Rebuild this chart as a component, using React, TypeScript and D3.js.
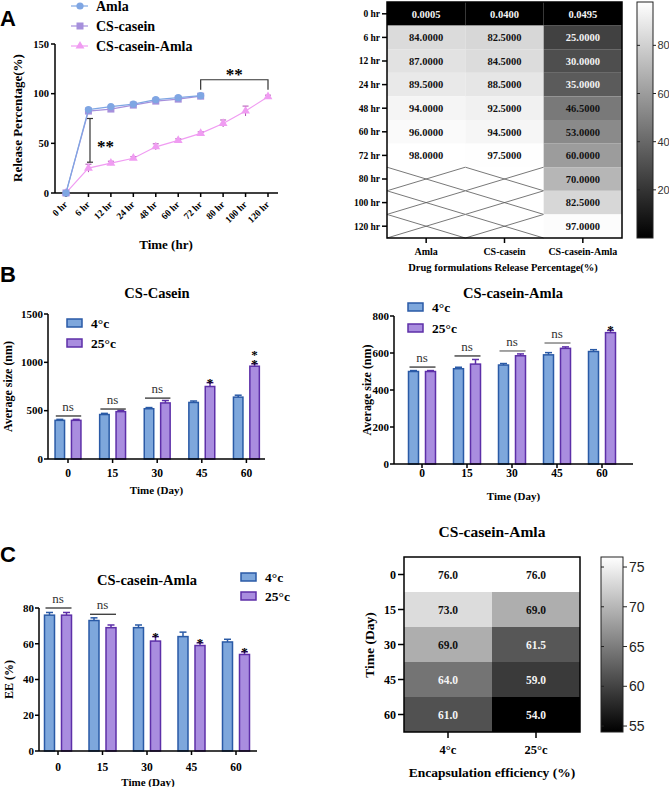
import React from 'react';
import * as d3 from 'd3';

// ---- panel A: release data ----
const timeCats = ['0 hr', '6 hr', '12 hr', '24 hr', '48 hr', '60 hr', '72 hr', '80 hr', '100 hr', '120 hr'];
const amla = [0.0005, 84, 87, 89.5, 94, 96, 98];
const casein = [0.04, 82.5, 84.5, 88.5, 92.5, 94.5, 97.5];
const caseinAmla = [0.0495, 25, 30, 35, 46.5, 53, 60, 70, 82.5, 97];
const caseinAmlaErr = [0, 4, 2, 1.5, 3, 1.5, 1.5, 3.5, 5, 1.5];
const formulations = ['Amla', 'CS-casein', 'CS-casein-Amla'];

// ---- panel B / C: stability data ----
const dayCats = ['0', '15', '30', '45', '60'];
const temps = ['4°c', '25°c'];
const csSize4 = [400, 460, 520, 585, 640];
const csSize25 = [400, 490, 580, 750, 960];
const csErr4 = [10, 12, 12, 15, 20];
const csErr25 = [10, 12, 25, 40, 25];
const caSize4 = [500, 515, 535, 590, 608];
const caSize25 = [500, 540, 585, 625, 710];
const caErr4 = [5, 8, 8, 12, 10];
const caErr25 = [5, 25, 10, 8, 12];
const ee4 = [76, 73, 69, 64, 61];
const ee25 = [76, 69, 61.5, 59, 54];
const eeErr4 = [1.5, 1.5, 1.5, 2.5, 1.5];
const eeErr25 = [1.5, 1.5, 2.5, 1.5, 1.5];

const serif = '"Liberation Serif", "Times New Roman", serif';
const sans = '"Liberation Sans", Arial, sans-serif';
const c4 = { fill: '#7ea7dc', stroke: '#2a5aa6' };
const c25 = { fill: '#a98ddf', stroke: '#5d2fa8' };

function LinePanel() {
  const x = d3.scalePoint<string>().domain(timeCats).range([66, 268]);
  const y = d3.scaleLinear().domain([0, 150]).range([193, 44]);
  const line = d3.line<number>().x((d, i) => x(timeCats[i])!).y((d) => y(d));
  const tri = d3.symbol().type(d3.symbolTriangle).size(34)()!;
  const series = [
    { name: 'Amla', vals: amla, color: '#7fa6e3', shape: 'circle' },
    { name: 'CS-casein', vals: casein, color: '#a690dc', shape: 'square' },
    { name: 'CS-casein-Amla', vals: caseinAmla, color: '#f09cf2', shape: 'tri' },
  ];
  const marker = (shape: string, cx: number, cy: number, color: string, key: any) =>
    shape === 'circle' ? <circle key={key} cx={cx} cy={cy} r={3.6} fill={color} />
      : shape === 'square' ? <rect key={key} x={cx - 3.5} y={cy - 3.5} width={7} height={7} fill={color} />
        : <path key={key} d={tri} transform={`translate(${cx},${cy})`} fill={color} />;
  const drawOrder = [series[2], series[1], series[0]];
  return (
    <g fontFamily={serif} fontWeight="bold">
      {/* legend */}
      {series.map((s, i) => (
        <g key={s.name} transform={`translate(0,${6 + i * 20})`}>
          <line x1={71} x2={88} y1={0} y2={0} stroke={s.color} strokeWidth={1.2} />
          {marker(s.shape, 80, 0, s.color, 'm')}
          <text x={96} y={5} fontSize={14}>{s.name}</text>
        </g>
      ))}
      {/* axes */}
      <line x1={55} x2={55} y1={44} y2={193} stroke="#000" strokeWidth={1.5} />
      <line x1={55} x2={278} y1={193} y2={193} stroke="#000" strokeWidth={1.5} />
      {[0, 50, 100, 150].map((t) => (
        <g key={t}>
          <line x1={51} x2={55} y1={y(t)} y2={y(t)} stroke="#000" strokeWidth={1.5} />
          <text x={49} y={y(t) + 3.5} fontSize={10.5} textAnchor="end">{t}</text>
        </g>
      ))}
      {timeCats.map((c) => (
        <g key={c}>
          <line x1={x(c)} x2={x(c)} y1={193} y2={197} stroke="#000" strokeWidth={1.5} />
          <text transform={`translate(${x(c)! + 2},${205}) rotate(-45)`} fontSize={9.5} textAnchor="end">{c}</text>
        </g>
      ))}
      <text transform="translate(22,118) rotate(-90)" fontSize={13} textAnchor="middle">Release Percentage(%)</text>
      <text x={166} y={249} fontSize={13} textAnchor="middle">Time (hr)</text>
      {/* series */}
      {drawOrder.map((s) => (
        <g key={s.name}>
          <path d={line(s.vals)!} fill="none" stroke={s.color} strokeWidth={1.2} />
          {s.name === 'CS-casein-Amla' && s.vals.map((v, i) => caseinAmlaErr[i] > 0 ? (
            <g key={i} stroke="#b14fb4" strokeWidth={1}>
              <line x1={x(timeCats[i])} x2={x(timeCats[i])} y1={y(v - caseinAmlaErr[i])} y2={y(v + caseinAmlaErr[i])} />
              <line x1={x(timeCats[i])! - 3} x2={x(timeCats[i])! + 3} y1={y(v + caseinAmlaErr[i])} y2={y(v + caseinAmlaErr[i])} />
            </g>
          ) : null)}
          {s.vals.map((v, i) => marker(s.shape, x(timeCats[i])!, y(v), s.color, i))}
        </g>
      ))}
      {/* significance */}
      <g stroke="#333" strokeWidth={1.2}>
        <line x1={90} x2={90} y1={y(75)} y2={y(31)} />
        <line x1={87} x2={93} y1={y(75)} y2={y(75)} />
        <line x1={87} x2={93} y1={y(31)} y2={y(31)} />
        <path d={`M${x('72 hr')},${y(104)}V${y(114)}H${x('120 hr')}V${y(104)}`} fill="none" />
      </g>
      <text x={97} y={152} fontSize={17}>**</text>
      <text x={(x('72 hr')! + x('120 hr')!) / 2} y={80} fontSize={17} textAnchor="middle">**</text>
    </g>
  );
}

function HeatA() {
  const rows = d3.scaleBand<string>().domain(timeCats).range([2, 238]);
  const cols = d3.scaleBand<string>().domain(formulations).range([387, 622]);
  const grid = [amla, casein, caseinAmla];
  const color = d3.scaleLinear<string>().domain([0, 98]).range(['#000', '#fff']).clamp(true);
  const cb = d3.scaleLinear().domain([0, 98]).range([238, 2]);
  return (
    <g fontFamily={serif} fontWeight="bold">
      <defs>
        <linearGradient id="gA" x1="0" x2="0" y1="1" y2="0">
          <stop offset="0" stopColor="#000" />
          <stop offset="1" stopColor="#fff" />
        </linearGradient>
      </defs>
      {formulations.map((f, ci) => timeCats.map((t, ri) => {
        const v = grid[ci][ri];
        const x0 = cols(f)!, y0 = rows(t)!, w = cols.bandwidth(), h = rows.bandwidth();
        if (v === undefined) {
          return (
            <g key={f + t} stroke="#555" strokeWidth={0.8}>
              <rect x={x0} y={y0} width={w} height={h} fill="#fff" stroke="none" />
              <line x1={x0} y1={y0} x2={x0 + w} y2={y0 + h} />
              <line x1={x0 + w} y1={y0} x2={x0} y2={y0 + h} />
            </g>
          );
        }
        const light = v / 98 > 0.46;
        return (
          <g key={f + t}>
            <rect x={x0} y={y0} width={w} height={h} fill={color(v)} />
            <text x={x0 + w / 2} y={y0 + h / 2 + 3.8} fontSize={10.5} textAnchor="middle" fill={light ? '#111' : '#f4f4f4'}>{v.toFixed(4)}</text>
          </g>
        );
      }))}
      <rect x={387} y={2} width={235} height={236} fill="none" stroke="#000" strokeWidth={1.5} />
      {timeCats.map((t) => (
        <g key={t}>
          <line x1={382} x2={387} y1={rows(t)! + rows.bandwidth() / 2} y2={rows(t)! + rows.bandwidth() / 2} stroke="#000" strokeWidth={1.5} />
          <text x={380} y={rows(t)! + rows.bandwidth() / 2 + 3.3} fontSize={9.5} textAnchor="end">{t}</text>
        </g>
      ))}
      {formulations.map((f) => (
        <g key={f}>
          <line x1={cols(f)! + cols.bandwidth() / 2} x2={cols(f)! + cols.bandwidth() / 2} y1={238} y2={243} stroke="#000" strokeWidth={1.5} />
          <text x={cols(f)! + cols.bandwidth() / 2} y={255} fontSize={10} textAnchor="middle">{f}</text>
        </g>
      ))}
      <text x={503} y={271} fontSize={10.5} textAnchor="middle">Drug formulations Release Percentage(%)</text>
      <rect x={637} y={2} width={16} height={236} fill="url(#gA)" stroke="#222" strokeWidth={1} />
      {[20, 40, 60, 80].map((t) => (
        <g key={t}>
          <line x1={637} x2={640} y1={cb(t)} y2={cb(t)} stroke="#222" />
          <line x1={653} x2={656} y1={cb(t)} y2={cb(t)} stroke="#222" />
          <text x={657.5} y={cb(t) + 4} fontSize={11} fontFamily={sans} fontWeight="normal" fill="#333">{t}</text>
        </g>
      ))}
    </g>
  );
}

type BarProps = {
  axisX: number; axisRight: number; yTop: number; yBottom: number; yMax: number; ticks: number[];
  band: [number, number]; offset: number; barW: number;
  v4: number[]; v25: number[]; e4: number[]; e25: number[];
  title: string; titleX: number; titleY: number;
  legendX: number; legendY: number; legendGap: number;
  yLabel: string; yLabelX: number; xLabelY: number; tickLabelY: number;
  ns: { cat: string; value: number; color?: string }[];
  stars: { cat: string; text: string[] }[];
};

function BarPanel(p: BarProps) {
  const x = d3.scaleBand<string>().domain(dayCats).range(p.band);
  const y = d3.scaleLinear().domain([0, p.yMax]).range([p.yBottom, p.yTop]);
  const cx = (c: string) => x(c)! + x.bandwidth() / 2;
  const groups = [
    { vals: p.v4, errs: p.e4, col: c4, dx: -p.offset },
    { vals: p.v25, errs: p.e25, col: c25, dx: p.offset },
  ];
  return (
    <g fontFamily={serif} fontWeight="bold">
      <text x={p.titleX} y={p.titleY} fontSize={14.5} textAnchor="middle">{p.title}</text>
      {temps.map((t, i) => (
        <g key={t}>
          <rect x={p.legendX} y={p.legendY + i * p.legendGap - 4} width={15} height={8} fill={groups[i].col.fill} stroke={groups[i].col.stroke} strokeWidth={1.5} />
          <text x={p.legendX + 24} y={p.legendY + i * p.legendGap + 5} fontSize={13.5}>{t}</text>
        </g>
      ))}
      {groups.map((g, gi) => dayCats.map((c, i) => {
        const bx = cx(c) + g.dx;
        const top = y(g.vals[i]);
        const et = y(g.vals[i] + g.errs[i]);
        return (
          <g key={gi + c} stroke={g.col.stroke} strokeWidth={1.5}>
            <line x1={bx} x2={bx} y1={top} y2={et} />
            <line x1={bx - 3.5} x2={bx + 3.5} y1={et} y2={et} />
            <rect x={bx - p.barW / 2} y={top} width={p.barW} height={p.yBottom - top} fill={g.col.fill} />
          </g>
        );
      }))}
      <line x1={p.axisX} x2={p.axisX} y1={p.yTop} y2={p.yBottom} stroke="#000" strokeWidth={1.5} />
      <line x1={p.axisX} x2={p.axisRight} y1={p.yBottom} y2={p.yBottom} stroke="#000" strokeWidth={1.5} />
      {p.ticks.map((t) => (
        <g key={t}>
          <line x1={p.axisX - 4} x2={p.axisX} y1={y(t)} y2={y(t)} stroke="#000" strokeWidth={1.5} />
          <text x={p.axisX - 5} y={y(t) + 3.8} fontSize={11} textAnchor="end">{t}</text>
        </g>
      ))}
      {dayCats.map((c) => (
        <g key={c}>
          <line x1={cx(c)} x2={cx(c)} y1={p.yBottom} y2={p.yBottom + 4} stroke="#000" strokeWidth={1.5} />
          <text x={cx(c)} y={p.tickLabelY} fontSize={11.5} textAnchor="middle">{c}</text>
        </g>
      ))}
      <text transform={`translate(${p.yLabelX},${(p.yTop + p.yBottom) / 2}) rotate(-90)`} fontSize={12} textAnchor="middle">{p.yLabel}</text>
      <text x={(p.axisX + p.axisRight) / 2} y={p.xLabelY} fontSize={11} textAnchor="middle">Time (Day)</text>
      {p.ns.map((n) => (
        <g key={n.cat}>
          <line x1={cx(n.cat) - p.offset - 4} x2={cx(n.cat) + p.offset + 5} y1={y(n.value)} y2={y(n.value)} stroke={n.color || '#222'} strokeWidth={1.2} />
          <text x={cx(n.cat)} y={y(n.value) - 5} fontSize={13} fontWeight="normal" textAnchor="middle" fill="#333">ns</text>
        </g>
      ))}
      {p.stars.map((s) => {
        const i = dayCats.indexOf(s.cat);
        const top = y(p.v25[i] + p.e25[i]);
        return s.text.map((st, k) => (
          <text key={s.cat + k} x={cx(s.cat) + p.offset} y={top + 5 - 9 * (s.text.length - 1 - k) - 1} fontSize={13} textAnchor="middle">{st}</text>
        ));
      })}
    </g>
  );
}

function HeatC() {
  const rows = d3.scaleBand<string>().domain(dayCats).range([557, 732]);
  const cols = d3.scaleBand<string>().domain(temps).range([404, 580]);
  const grid = [ee4, ee25];
  const color = d3.scaleLinear<string>().domain([54, 76]).range(['#000', '#fff']).clamp(true);
  const cb = d3.scaleLinear().domain([54.25, 76.26]).range([732, 557]);
  return (
    <g fontFamily={serif} fontWeight="bold">
      <defs>
        <linearGradient id="gC" x1="0" x2="0" y1="1" y2="0">
          <stop offset="0" stopColor="#000" />
          <stop offset="1" stopColor="#fff" />
        </linearGradient>
      </defs>
      <text x={492} y={537} fontSize={15.5} textAnchor="middle">CS-casein-Amla</text>
      {temps.map((t, ci) => dayCats.map((d, ri) => {
        const v = grid[ci][ri];
        const x0 = cols(t)!, y0 = rows(d)!;
        const light = (v - 54) / 22 > 0.46;
        return (
          <g key={t + d}>
            <rect x={x0} y={y0} width={cols.bandwidth()} height={rows.bandwidth()} fill={color(v)} />
            <text x={x0 + cols.bandwidth() / 2} y={y0 + rows.bandwidth() / 2 + 4} fontSize={11.5} textAnchor="middle" fill={light ? '#111' : '#f4f4f4'}>{v.toFixed(1)}</text>
          </g>
        );
      }))}
      <rect x={404} y={557} width={176} height={175} fill="none" stroke="#000" strokeWidth={1.5} />
      {dayCats.map((d) => (
        <g key={d}>
          <line x1={398} x2={404} y1={rows(d)! + rows.bandwidth() / 2} y2={rows(d)! + rows.bandwidth() / 2} stroke="#000" strokeWidth={1.5} />
          <text x={396} y={rows(d)! + rows.bandwidth() / 2 + 4} fontSize={12} textAnchor="end">{d}</text>
        </g>
      ))}
      {temps.map((t) => (
        <g key={t}>
          <line x1={cols(t)! + cols.bandwidth() / 2} x2={cols(t)! + cols.bandwidth() / 2} y1={732} y2={738} stroke="#000" strokeWidth={1.5} />
          <text x={cols(t)! + cols.bandwidth() / 2} y={754} fontSize={12.5} textAnchor="middle">{t}</text>
        </g>
      ))}
      <text x={492} y={777} fontSize={13.5} textAnchor="middle">Encapsulation efficiency (%)</text>
      <text transform="translate(374,645) rotate(-90)" fontSize={13.5} textAnchor="middle">Time (Day)</text>
      <rect x={601} y={557} width={22} height={175} fill="url(#gC)" stroke="#222" strokeWidth={1} />
      {[55, 60, 65, 70, 75].map((t) => (
        <g key={t}>
          <line x1={601} x2={604} y1={cb(t)} y2={cb(t)} stroke="#222" />
          <line x1={623} x2={627} y1={cb(t)} y2={cb(t)} stroke="#222" />
          <text x={629} y={cb(t) + 5} fontSize={14} fontFamily={sans} fontWeight="normal" fill="#222">{t}</text>
        </g>
      ))}
    </g>
  );
}

export default function App() {
  return (
    <svg width={669} height={787} style={{ position: 'absolute', left: 0, top: 0, background: '#fff' }}>
      <rect width={669} height={787} fill="#fff" />
      <g fontFamily={sans} fontWeight="bold" fontSize={22}>
        <text x={0} y={26}>A</text>
        <text x={0} y={282}>B</text>
        <text x={0} y={562}>C</text>
      </g>
      <LinePanel />
      <HeatA />
      <BarPanel axisX={48} axisRight={265} yTop={314} yBottom={459} yMax={1500} ticks={[0, 500, 1000, 1500]}
        band={[45.7, 268.7]} offset={8.2} barW={9.5}
        v4={csSize4} v25={csSize25} e4={csErr4} e25={csErr25}
        title="CS-Casein" titleX={157} titleY={298} legendX={67} legendY={323} legendGap={20}
        yLabel="Average size (nm)" yLabelX={12} xLabelY={494} tickLabelY={477}
        ns={[{ cat: '0', value: 445 }, { cat: '15', value: 517 }, { cat: '30', value: 630 }]}
        stars={[{ cat: '45', text: ['*'] }, { cat: '60', text: ['*', '*'] }]} />
      <BarPanel axisX={394} axisRight={633} yTop={316} yBottom={464} yMax={800} ticks={[0, 200, 400, 600, 800]}
        band={[399.5, 624.5]} offset={8.5} barW={10}
        v4={caSize4} v25={caSize25} e4={caErr4} e25={caErr25}
        title="CS-casein-Amla" titleX={513} titleY={298} legendX={408} legendY={307} legendGap={21}
        yLabel="Average size (nm)" yLabelX={371} xLabelY={500} tickLabelY={477}
        ns={[{ cat: '0', value: 524 }, { cat: '15', value: 584 }, { cat: '30', value: 611, color: '#666' }, { cat: '45', value: 654, color: '#666' }]}
        stars={[{ cat: '60', text: ['*'] }]} />
      <BarPanel axisX={39} axisRight={257} yTop={608} yBottom={751} yMax={80} ticks={[0, 20, 40, 60, 80]}
        band={[35.75, 258.25]} offset={8.5} barW={10}
        v4={ee4} v25={ee25} e4={eeErr4} e25={eeErr25}
        title="CS-casein-Amla" titleX={147} titleY={585} legendX={241} legendY={577} legendGap={19}
        yLabel="EE (%)" yLabelX={13} xLabelY={786} tickLabelY={771}
        ns={[{ cat: '0', value: 80 }, { cat: '15', value: 76.5 }]}
        stars={[{ cat: '30', text: ['*'] }, { cat: '45', text: ['*'] }, { cat: '60', text: ['*'] }]} />
      <HeatC />
    </svg>
  );
}
